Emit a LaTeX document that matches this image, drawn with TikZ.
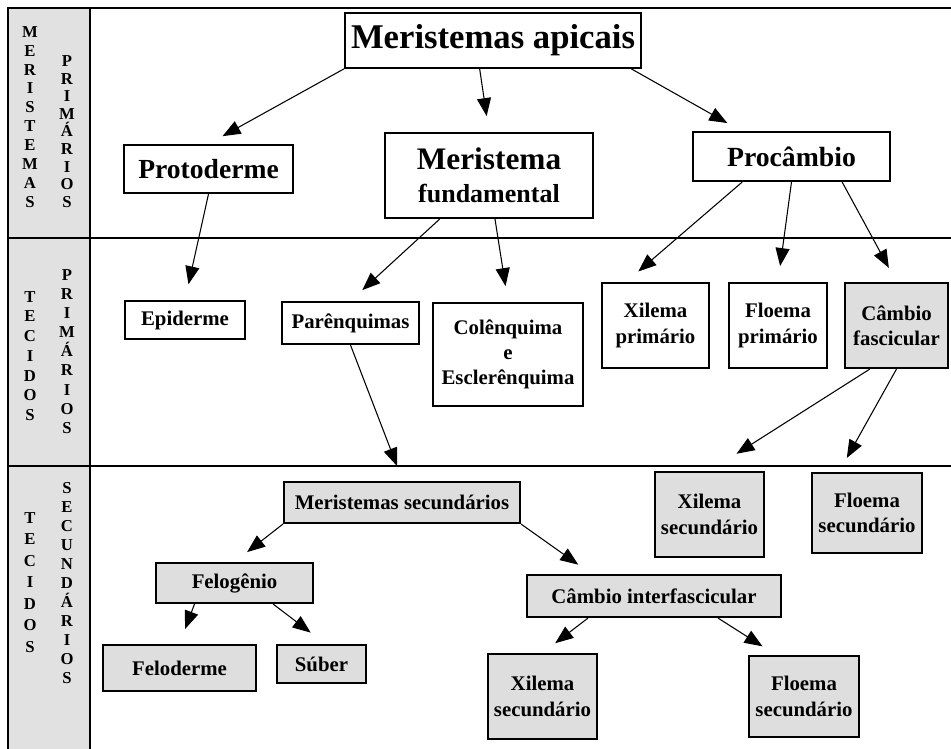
\documentclass[tikz,border=0pt]{standalone}
\usepackage{fontspec}
\setmainfont{Liberation Serif}
\usetikzlibrary{arrows.meta}
\definecolor{boxgray}{RGB}{222,222,222}
\definecolor{colgray}{RGB}{225,225,225}

\begin{document}
\begin{tikzpicture}[x=0.75pt,y=-0.75pt,box/.style={draw, line width=1.6pt, inner sep=0pt, align=center, font=\bfseries\fontsize{15.6}{19}\selectfont},shaded/.style={box, fill=boxgray},dim/.style 2 args={minimum width=#1, minimum height=#2},letters/.style={inner sep=0pt, align=center, font=\bfseries\fontsize{12.5}{#1}\selectfont},arr/.style={-{Triangle[length=13.5pt,width=10.5pt]}, line width=0.8pt, shorten >=12pt},frame/.style={line width=2.2pt}]
\useasboundingbox (0,0) rectangle (951,749);
\fill[colgray] (8,8) rectangle (90,749);
\draw[frame] (8,749) -- (8,8) -- (951,8);
\draw[frame] (90,8) -- (90,749);
\draw[frame] (8,238) -- (951,238);
\draw[frame] (8,466) -- (951,466);
\node[letters=14.2pt] (merist) at (30,117) {M\\E\\R\\I\\S\\T\\E\\M\\A\\S};
\node[letters=13.2pt] (prim1) at (67,131.5) {P\\R\\I\\M\\Á\\R\\I\\O\\S};
\node[letters=14.8pt] (tec1) at (30,356) {T\\E\\C\\I\\D\\O\\S};
\node[letters=14.3pt] (prim2) at (67,351.5) {P\\R\\I\\M\\Á\\R\\I\\O\\S};
\node[letters=16.1pt] (tec2) at (30,582.5) {T\\E\\C\\I\\D\\O\\S};
\node[letters=14.25pt] (secund) at (67,583) {S\\E\\C\\U\\N\\D\\Á\\R\\I\\O\\S};

\node[box, dim={222pt}{41pt}, font=\bfseries\fontsize{26}{30}\selectfont] (apic) at (493,40.5) {Meristemas apicais};
\node[box, dim={126.75pt}{36pt}, font=\bfseries\fontsize{20.7}{24}\selectfont] (proto) at (208.5,169) {Protoderme};
\node[box, dim={156pt}{63.75pt}, font=\bfseries\fontsize{19.5}{25}\selectfont] (fund) at (489,175.5) {{\fontsize{23.5}{25}\selectfont Meristema}\\fundamental};
\node[box, dim={147.75pt}{36.75pt}, font=\bfseries\fontsize{20.8}{24}\selectfont] (proc) at (791.5,156.5) {Procâmbio};

\node[box, dim={90pt}{28.5pt}] (epid) at (185,320) {Epiderme};
\node[box, dim={102.75pt}{31.5pt}] (paren) at (350.5,323) {Parênquimas};
\node[box, dim={112.5pt}{77.25pt}] (colen) at (508,354.5) {Colênquima\\e\\Esclerênquima};
\node[box, dim={80.25pt}{63.75pt}] (xilp) at (655.5,325.5) {Xilema\\primário};
\node[box, dim={73.5pt}{63.75pt}] (floep) at (778,325.5) {Floema\\primário};
\node[shaded, dim={77.25pt}{63.75pt}] (cambf) at (896.5,325.5) {Câmbio\\fascicular};

\node[shaded, dim={81.75pt}{63.75pt}] (xils1) at (709.5,514.5) {Xilema\\secundário};
\node[shaded, dim={82.5pt}{60pt}] (floes1) at (867,513) {Floema\\secundário};
\node[shaded, dim={177pt}{30.75pt}] (merisec) at (402,502.5) {Meristemas secundários};
\node[shaded, dim={117.75pt}{30pt}] (felog) at (234.5,583) {Felogênio};
\node[shaded, dim={114.75pt}{34.5pt}] (felod) at (179.5,668) {Feloderme};
\node[shaded, dim={66.75pt}{28.5pt}] (suber) at (321.5,664) {Súber};
\node[shaded, dim={190.5pt}{31.5pt}] (cambi) at (654,596) {Câmbio interfascicular};
\node[shaded, dim={81.75pt}{63.75pt}] (xils2) at (542.5,696.5) {Xilema\\secundário};
\node[shaded, dim={82.5pt}{60.75pt}] (floes2) at (804,696.5) {Floema\\secundário};
\coordinate (secin) at (397,466);

\draw[arr] (apic.south west) -- (proto.north);
\draw[arr] ([xshift=-10pt]apic.south) -- (fund.north);
\draw[arr] ([xshift=-8pt]apic.south east) -- ([xshift=37pt]proc.north west);
\draw[arr] (proto.south) -- (epid.north);
\draw[arr] ([xshift=-37pt]fund.south) -- (paren.north);
\draw[arr] ([xshift=4.5pt]fund.south) -- (colen.north);
\draw[arr] ([xshift=-37pt]proc.south) -- ([xshift=-22pt]xilp.north);
\draw[arr] (proc.south) -- (floep.north);
\draw[arr] ([xshift=38pt]proc.south) -- (cambf.north);
\draw[arr, shorten >=0pt] (paren.south) -- (secin);
\draw[arr, shorten >=24pt] ([xshift=-20pt]cambf.south) -- (xils1.north);
\draw[arr] (cambf.south) -- ([xshift=-21pt]floes1.north);
\draw[arr] (merisec.south west) -- (felog.north);
\draw[arr] (merisec.south east) -- ([xshift=-47pt]cambi.north);
\draw[arr] ([xshift=-30pt]felog.south) -- (felod.north);
\draw[arr, shorten >=14pt] ([xshift=29pt]felog.south) -- ([xshift=3pt]suber.north);
\draw[arr] ([xshift=-49.5pt]cambi.south) -- (xils2.north);
\draw[arr] ([xshift=48pt]cambi.south) -- ([xshift=-21pt]floes2.north);
\end{tikzpicture}
\end{document}
